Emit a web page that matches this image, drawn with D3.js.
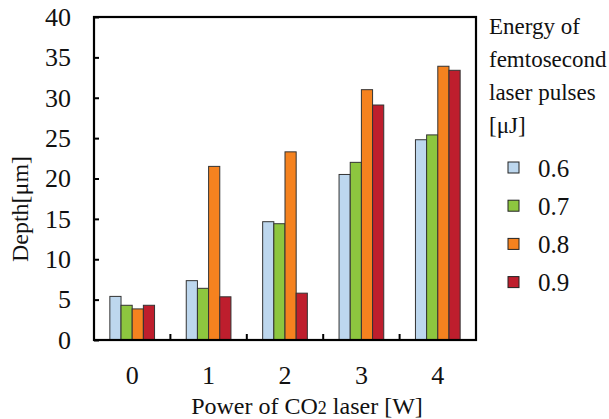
<!DOCTYPE html>
<html>
<head>
<meta charset="utf-8">
<script src="https://cdn.jsdelivr.net/npm/d3@7"></script>
<style>
  html, body { margin: 0; padding: 0; background: #fff; }
</style>
</head>
<body>
<svg id="chart" width="609" height="419" style="font-family: 'Liberation Serif', 'Times New Roman', serif;"></svg>
<script>
const categories = ["0", "1", "2", "3", "4"];
const seriesNames = ["0.6", "0.7", "0.8", "0.9"];
const s06 = [5.4, 7.35, 14.65, 20.5, 24.8];
const s07 = [4.3, 6.4, 14.4, 22.0, 25.4];
const s08 = [3.85, 21.5, 23.3, 31.0, 33.9];
const s09 = [4.3, 5.35, 5.8, 29.1, 33.4];
const seriesValues = [s06, s07, s08, s09];
const yTicks = [0, 5, 10, 15, 20, 25, 30, 35, 40];
const colors = ["#BDD7EE", "#8DC63F", "#F5821F", "#BE1E2D"];
const legendTitle = ["Energy of", "femtosecond", "laser pulses", "[\u03bcJ]"];

const FONT = "'Liberation Serif', 'Times New Roman', serif";
const svg = d3.select("#chart");
const L = 94, R = 476, T = 17, B = 340;

const x = d3.scaleBand().domain(categories).range([L, R]).paddingInner(0.415).paddingOuter(0.2075);
const xs = d3.scaleBand().domain(seriesNames).range([0, x.bandwidth()]);
const y = d3.scaleLinear().domain([0, 40]).range([B, T]);

// bars
const g = svg.append("g");
categories.forEach((c, i) => {
  seriesNames.forEach((s, j) => {
    const v = seriesValues[j][i];
    g.append("rect")
      .attr("x", x(c) + xs(s))
      .attr("y", y(v))
      .attr("width", xs.bandwidth())
      .attr("height", y(0) - y(v))
      .attr("fill", colors[j])
      .attr("stroke", "#333")
      .attr("stroke-width", 1);
  });
});

// frame
svg.append("rect").attr("x", L).attr("y", T).attr("width", R - L).attr("height", B - T)
  .attr("fill", "none").attr("stroke", "#000").attr("stroke-width", 2.2);

// y axis
const yAxis = d3.axisLeft(y).tickValues(yTicks).tickSizeInner(-5).tickSizeOuter(0).tickPadding(23);
const yg = svg.append("g").attr("transform", `translate(${L},0)`).call(yAxis);
yg.attr("font-family", null).attr("font-size", null);
yg.select(".domain").remove();
yg.selectAll(".tick line").attr("stroke", "#000").attr("stroke-width", 2);
yg.selectAll(".tick text").style("font-family", FONT).style("font-size", "26px").attr("fill", "#111");

// x axis labels
const xAxis = d3.axisBottom(x).tickSize(0).tickPadding(26);
const xg = svg.append("g").attr("transform", `translate(0,${B})`).call(xAxis);
xg.attr("font-family", null).attr("font-size", null);
xg.select(".domain").remove();
xg.selectAll(".tick text").style("font-family", FONT).style("font-size", "26px").attr("fill", "#111");

// separator ticks between groups
const gap = (x.step() - x.bandwidth()) / 2;
svg.append("g").selectAll("line").data(categories.slice(1)).join("line")
  .attr("x1", d => x(d) - gap).attr("x2", d => x(d) - gap)
  .attr("y1", B).attr("y2", B - 6)
  .attr("stroke", "#000").attr("stroke-width", 2);

// axis titles
const xt = svg.append("text").attr("x", 307).attr("y", 414).attr("text-anchor", "middle")
  .style("font-family", FONT).style("font-size", "24px").attr("fill", "#111");
xt.append("tspan").text("Power of CO");
xt.append("tspan").style("font-size", "18px").text("2");
xt.append("tspan").text(" laser [W]");

svg.append("text").attr("transform", "translate(28,209) rotate(-90)")
  .attr("text-anchor", "middle").style("font-family", FONT).style("font-size", "24px").attr("fill", "#111")
  .text("Depth[\u03bcm]");

// legend
const lg = svg.append("g");
lg.selectAll("text.title").data(legendTitle).join("text").attr("class", "title")
  .attr("x", 489).attr("y", (d, i) => 34 + i * 33).style("font-family", FONT).style("font-size", "23px")
  .attr("fill", "#111").text(d => d);
const items = lg.selectAll("g.item").data(seriesNames).join("g").attr("class", "item")
  .attr("transform", (d, i) => `translate(0,${167.5 + i * 38.2})`);
items.append("rect").attr("x", 508).attr("y", -5.5).attr("width", 11).attr("height", 11)
  .attr("fill", (d, i) => colors[i]).attr("stroke", "#222").attr("stroke-width", 1);
items.append("text").attr("x", 538).attr("y", 9).style("font-family", FONT).style("font-size", "25px")
  .attr("fill", "#111").text(d => d);
</script>
</body>
</html>
